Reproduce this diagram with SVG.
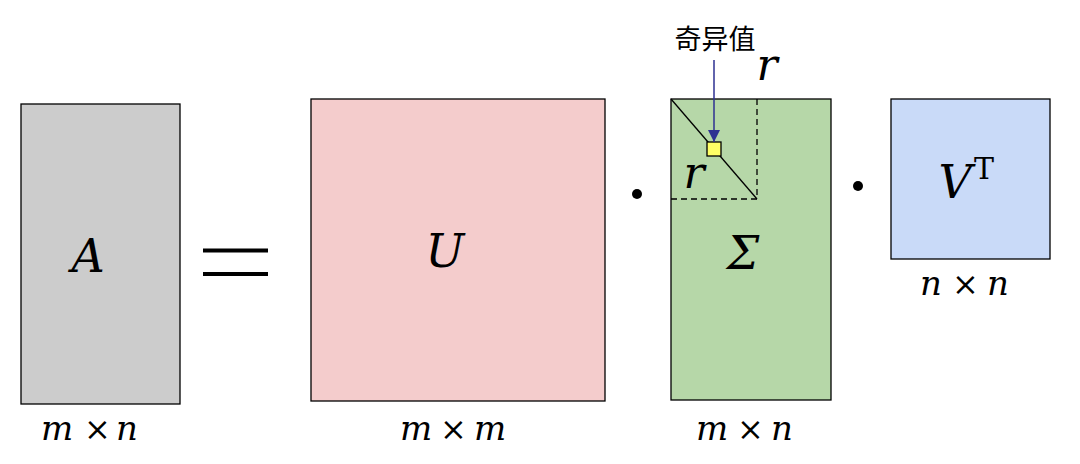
<svg xmlns="http://www.w3.org/2000/svg" width="1080" height="464" viewBox="0 0 1080 464">
<defs>
<style>
.box{stroke:#000;stroke-width:1.3}
.math{font-family:'DejaVu Serif','Liberation Serif',serif;font-style:italic;fill:#000}
.big{font-size:46px}
.rr{font-size:44px}
.dim{font-size:34px}
.times{font-family:'DejaVu Serif','Liberation Serif',serif;font-style:normal;font-size:32px}
.cjk{font-family:'Noto Sans CJK SC','Noto Sans',sans-serif;font-size:27px;fill:#000}
.dash{stroke:#000;stroke-width:1.3;stroke-dasharray:6,4;fill:none}
</style>
<marker id="ah" markerWidth="12" markerHeight="12" refX="12" refY="6" orient="auto" markerUnits="userSpaceOnUse">
<path d="M0,0 L12,6 L0,12 z" fill="#2e3192"/>
</marker>
</defs>
<rect width="1080" height="464" fill="#fff"/>
<g id="nodeA">
<rect class="box" x="21" y="104" width="159" height="300" fill="#cccccc"/>
<text class="math big" x="88" y="272" text-anchor="middle">A</text>
<text class="math dim" y="440"><tspan x="41">m</tspan><tspan class="times" x="84">×</tspan><tspan x="116">n</tspan></text>
</g>
<g id="equals">
<rect x="203" y="248.5" width="65" height="4" fill="#000"/>
<rect x="203" y="272" width="65" height="4" fill="#000"/>
</g>
<g id="nodeU">
<rect class="box" x="311" y="99" width="294" height="302" fill="#f4cccc"/>
<text class="math big" x="445" y="267" text-anchor="middle">U</text>
<text class="math dim" y="440"><tspan x="400">m</tspan><tspan class="times" x="440">×</tspan><tspan x="474">m</tspan></text>
</g>
<g id="dot1"><circle cx="637" cy="194" r="5" fill="#000"/></g>
<g id="nodeSigma">
<rect class="box" x="671" y="99" width="160" height="301" fill="#b6d7a8"/>
<polyline class="dash" points="757,99 757,199 671,199"/>
<line x1="671" y1="99" x2="757" y2="199" stroke="#000" stroke-width="1.3"/>
<rect x="707" y="142" width="14" height="14" fill="#ffff66" stroke="#000" stroke-width="1.3"/>
<text class="math big" x="743" y="269" text-anchor="middle">Σ</text>
<text class="math rr" x="694" y="188" text-anchor="middle">r</text>
<text class="math rr" x="767" y="80" text-anchor="middle">r</text>
<text class="math dim" y="440"><tspan x="696">m</tspan><tspan class="times" x="737">×</tspan><tspan x="771">n</tspan></text>
</g>
<g id="dot2"><circle cx="858" cy="186" r="5" fill="#000"/></g>
<g id="nodeV">
<rect class="box" x="891" y="99" width="159" height="160" fill="#c9daf8"/>
<text class="math big" x="955" y="198" text-anchor="middle">V</text>
<text x="984" y="179" text-anchor="middle" font-family="DejaVu Serif,serif" font-size="30">T</text>
<text class="math dim" y="295"><tspan x="920">n</tspan><tspan class="times" x="952">×</tspan><tspan x="987">n</tspan></text>
</g>
<g id="label">
<text class="cjk" x="715" y="49" text-anchor="middle">奇异值</text>
</g>
<g id="connectors">
<line x1="714" y1="60" x2="714" y2="142" stroke="#2e3192" stroke-width="1.5" marker-end="url(#ah)"/>
</g>
</svg>
